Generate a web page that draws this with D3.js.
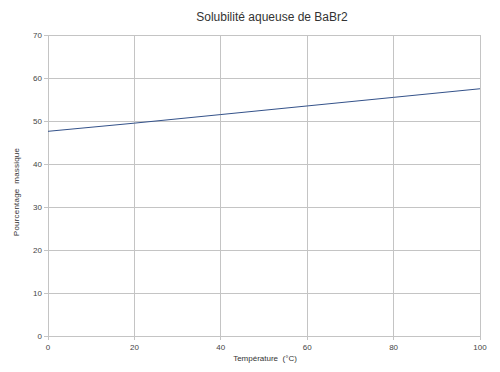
<!DOCTYPE html>
<html><head><meta charset="utf-8">
<script src="https://cdn.jsdelivr.net/npm/d3@7"></script>
<style>body{margin:0;background:#fff}svg{display:block;font-family:"Liberation Sans",Arial,sans-serif}text{white-space:pre}</style>
</head><body>
<script>
const temperatures = [0, 20, 40, 60, 80, 100];
const massPercent = [47.6, 49.5, 51.5, 53.5, 55.5, 57.5];
const xTicks = [0, 20, 40, 60, 80, 100];
const yTicks = [0, 10, 20, 30, 40, 50, 60, 70];
const title = "Solubilité aqueuse de BaBr2";
const xTitle = "Température  (°C)";
const yTitle = "Pourcentage  massique";

const W = 500, H = 372;
const m = {l: 48, r: 20, t: 35, b: 36};
const svg = d3.select("body").append("svg").attr("width", W).attr("height", H);
const x = d3.scaleLinear().domain([0, 100]).range([m.l, W - m.r]);
const y = d3.scaleLinear().domain([0, 70]).range([H - m.b, m.t]);

const grid = svg.append("g").attr("stroke", "#c4c4c4").attr("stroke-width", 1).attr("shape-rendering", "crispEdges");
grid.selectAll(".gx").data(xTicks).join("line")
  .attr("x1", d => x(d)).attr("x2", d => x(d)).attr("y1", y(70)).attr("y2", y(0) + 4);
grid.selectAll(".gy").data(yTicks).join("line")
  .attr("y1", d => y(d)).attr("y2", d => y(d)).attr("x1", x(0) - 4).attr("x2", x(100));

const tick = svg.append("g").attr("font-size", 8).attr("fill", "#444");
tick.selectAll(".ty").data(yTicks).join("text")
  .attr("x", x(0) - 6).attr("y", d => y(d) + 3).attr("text-anchor", "end").text(d => d);
tick.selectAll(".tx").data(xTicks).join("text")
  .attr("x", d => x(d)).attr("y", y(0) + 14).attr("text-anchor", "middle").text(d => d);

const line = d3.line().x((d, i) => x(temperatures[i])).y(d => y(d));
svg.append("path").datum(massPercent).attr("d", line)
  .attr("fill", "none").attr("stroke", "#34528a").attr("stroke-width", 1);

svg.append("text").attr("x", 272).attr("y", 21).attr("text-anchor", "middle")
  .attr("font-size", 12).attr("fill", "#333").text(title);
svg.append("text").attr("x", 265).attr("y", 361).attr("text-anchor", "middle")
  .attr("font-size", 8).attr("fill", "#333").text(xTitle);
svg.append("text").attr("transform", "translate(19,192) rotate(-90)").attr("text-anchor", "middle")
  .attr("font-size", 8).attr("letter-spacing", 0.2).attr("fill", "#333").text(yTitle);
</script>
</body></html>
